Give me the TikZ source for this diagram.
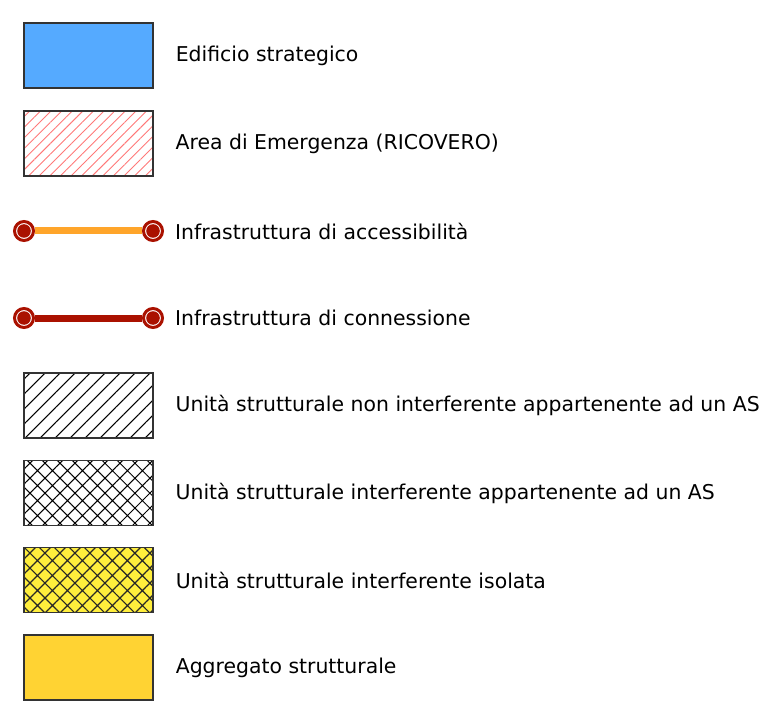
\documentclass[tikz,border=0pt]{standalone}
\usepackage{fontspec}
\setmainfont{DejaVu Sans}
\usetikzlibrary{positioning,patterns.meta}

\definecolor{stratblue}{RGB}{85,170,255}
\definecolor{accorange}{RGB}{255,165,42}
\definecolor{conred}{RGB}{170,17,0}
\definecolor{hatchred}{RGB}{255,120,120}
\definecolor{isoyellow}{RGB}{255,238,60}
\definecolor{aggyellow}{RGB}{255,211,51}

\tikzset{
  legbox/.style={draw=black!80,line width=1.2pt,minimum width=129pt,minimum height=65pt,inner sep=0pt},
  legtext/.style={right=22pt of #1,inner sep=0pt,font=\fontsize{20.4}{24}\selectfont},
  endpt/.style={circle,draw=conred,line width=3pt,fill=white,minimum size=19pt,inner sep=0pt,
    path picture={\fill[conred] (path picture bounding box.center) circle (6.8pt);}},
}

\begin{document}
\begin{tikzpicture}[x=1pt,y=-1pt]
  \useasboundingbox (0,0) rectangle (776,703);
  % boxes
  \node[legbox,fill=stratblue] (strat) at (88.5,55.5) {};
  \node[legbox,pattern={Lines[angle=45,distance=7.5pt,line width=0.9pt]},pattern color=hatchred] (ricov) at (88.5,143.5) {};
  \node[legbox,pattern={Lines[angle=45,distance=10.6pt,line width=1pt]},pattern color=black] (usnon) at (88.5,405.5) {};
  \node[legbox,pattern={Hatch[angle=45,distance=10.6pt,line width=1pt]},pattern color=black] (usint) at (88.5,493) {};
  \node[legbox,preaction={fill=isoyellow},pattern={Hatch[angle=45,distance=10.6pt,line width=1.2pt]},pattern color=black!85] (usiso) at (88.5,580) {};
  \node[legbox,fill=aggyellow] (aggr) at (88.5,667.5) {};
  % infrastrutture
  \node[endpt] (accA) at (24,231) {};
  \node[endpt] (accB) at (153,231) {};
  \draw[accorange,line width=7pt] (accA) -- (accB);
  \node[endpt] (conA) at (24,318) {};
  \node[endpt] (conB) at (153,318) {};
  \draw[conred,line width=7pt] (conA) -- (conB);
  % testi
  \node[legtext=strat] (tstrat) {Edificio strategico};
  \node[legtext=ricov] (tricov) {Area di Emergenza (RICOVERO)};
  \node[legtext=accB,right=11pt of accB] (tacc) {Infrastruttura di accessibilità};
  \node[legtext=conB,right=11pt of conB] (tcon) {Infrastruttura di connessione};
  \node[legtext=usnon] (tusnon) {Unità strutturale non interferente appartenente ad un AS};
  \node[legtext=usint] (tusint) {Unità strutturale interferente appartenente ad un AS};
  \node[legtext=usiso] (tusiso) {Unità strutturale interferente isolata};
  \node[legtext=aggr] (taggr) {Aggregato strutturale};
\end{tikzpicture}
\end{document}
